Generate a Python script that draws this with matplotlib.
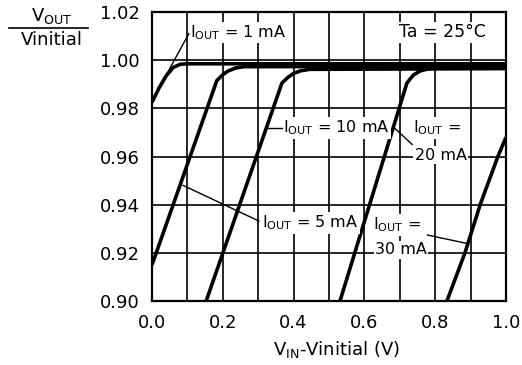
import matplotlib
matplotlib.use("Agg")
import matplotlib.pyplot as plt
from matplotlib.lines import Line2D

plt.rcParams["font.family"] = ["DejaVu Sans"]
plt.rcParams["mathtext.default"] = "regular"

# V_OUT / V_initial vs (V_IN - V_initial), one curve per load current
x_1ma = [0.0, 0.02, 0.04, 0.06, 0.08, 0.10, 1.0]
y_1ma = [0.9825, 0.9885, 0.9935, 0.9970, 0.9983, 0.9985, 0.9985]

x_5ma = [0.0, 0.183, 0.20, 0.215, 0.235, 0.26, 1.0]
y_5ma = [0.915, 0.9915, 0.9940, 0.9955, 0.9967, 0.9973, 0.9975]

x_10ma = [0.153, 0.367, 0.385, 0.40, 0.42, 0.446, 1.0]
y_10ma = [0.900, 0.9905, 0.9930, 0.9945, 0.9956, 0.9962, 0.9965]

x_20ma = [0.531, 0.72, 0.738, 0.757, 0.78, 0.805, 1.0]
y_20ma = [0.900, 0.9905, 0.9938, 0.9955, 0.9964, 0.9967, 0.9967]

x_30ma = [0.833, 0.884, 0.927, 0.977, 1.0]
y_30ma = [0.900, 0.920, 0.940, 0.960, 0.968]

curves = [(x_1ma, y_1ma), (x_5ma, y_5ma), (x_10ma, y_10ma),
          (x_20ma, y_20ma), (x_30ma, y_30ma)]

x_major = [0.0, 0.2, 0.4, 0.6, 0.8, 1.0]
x_minor = [0.1, 0.3, 0.5, 0.7, 0.9]
y_ticks = [0.90, 0.92, 0.94, 0.96, 0.98, 1.00, 1.02]

fig = plt.figure(figsize=(5.22, 3.65), dpi=100)
ax = fig.add_axes([0.2912, 0.1753, 0.6782, 0.7918])

for xs, ys in curves:
    ax.plot(xs, ys, color="black", lw=2.6, solid_capstyle="butt",
            solid_joinstyle="round", zorder=3)

ax.set_xlim(0.0, 1.0)
ax.set_ylim(0.90, 1.02)
ax.set_xticks(x_major)
ax.set_xticklabels([f"{v:.1f}" for v in x_major])
ax.set_xticks(x_minor, minor=True)
ax.set_yticks(y_ticks)
ax.set_yticklabels([f"{v:.2f}" for v in y_ticks])
ax.tick_params(which="both", length=0, labelsize=13, pad=9)
ax.grid(True, which="both", color="black", lw=1.2, zorder=1)
for sp in ax.spines.values():
    sp.set_linewidth(1.6)

box = dict(facecolor="white", edgecolor="none", pad=1.0)
fs = 11.5

def label(x, y, s, **kw):
    ax.text(x, y, s, fontsize=fs, va="center", ha="left", bbox=box, zorder=4, **kw)

def leader(x0, y0, x1, y1):
    ax.plot([x0, x1], [y0, y1], color="black", lw=1.0, zorder=4)

label(0.108, 1.0115, r"I$_{OUT}$ = 1 mA")
leader(0.104, 1.0110, 0.035, 0.9925)

ax.text(0.82, 1.0115, "Ta = 25°C", fontsize=fs + 1, va="center", ha="center", bbox=box, zorder=4)

label(0.370, 0.9718, r"I$_{OUT}$ = 10 mA")
leader(0.326, 0.9720, 0.368, 0.9720)

label(0.738, 0.9718, r"I$_{OUT}$ =")
label(0.742, 0.9606, "20 mA")
leader(0.680, 0.9725, 0.735, 0.9650)

label(0.311, 0.9324, r"I$_{OUT}$ = 5 mA")
leader(0.088, 0.9480, 0.302, 0.9332)

label(0.625, 0.9316, r"I$_{OUT}$ =")
label(0.630, 0.9212, "30 mA")
leader(0.778, 0.9274, 0.893, 0.9238)

# y-axis quantity written as a fraction
fig.text(52 / 522, 1 - 16 / 365, r"V$_{OUT}$", fontsize=13, ha="center", va="center")
fig.text(52 / 522, 1 - 40 / 365, "Vinitial", fontsize=13, ha="center", va="center")
fig.add_artist(Line2D([9 / 522, 88 / 522], [1 - 28 / 365, 1 - 28 / 365],
                      color="black", lw=1.2, transform=fig.transFigure))

fig.text(336 / 522, 1 - 349 / 365, r"V$_{IN}$-Vinitial (V)", fontsize=13,
         ha="center", va="center")

fig.savefig("out.png", dpi=100)
